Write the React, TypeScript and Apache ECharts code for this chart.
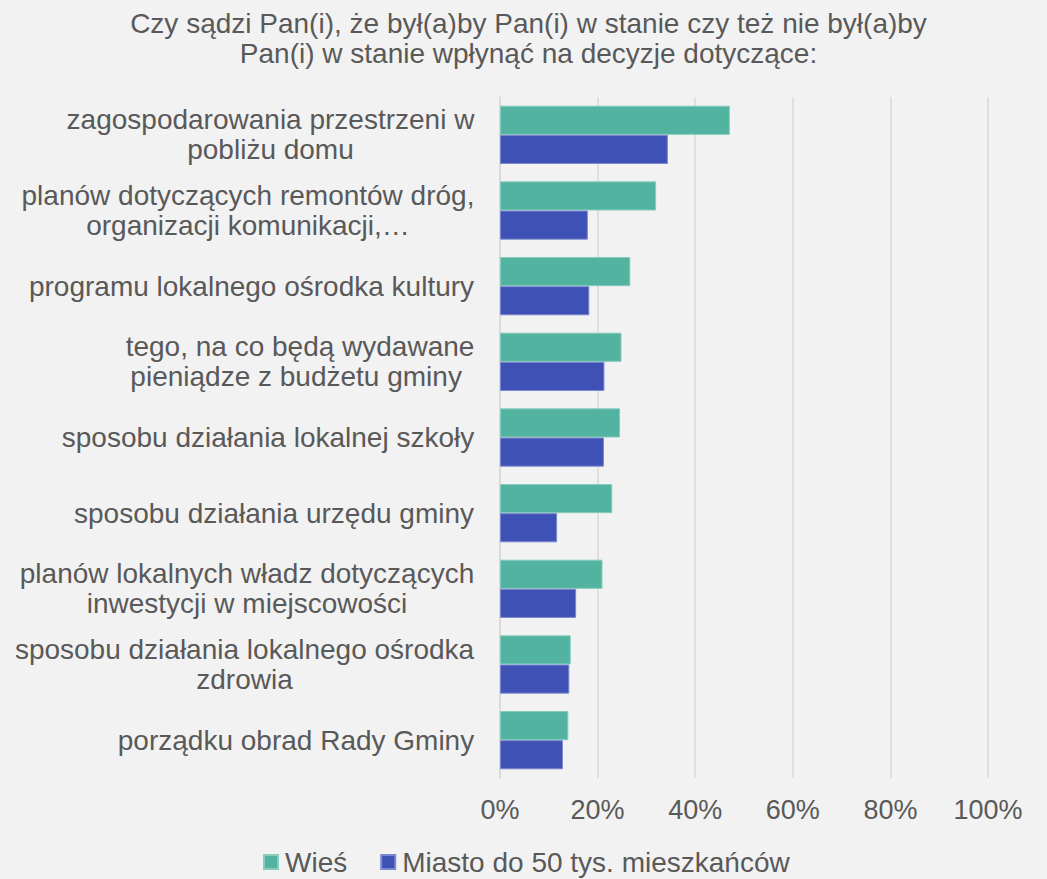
import React, { useEffect, useRef } from "react";
import * as echarts from "echarts";

const titleLines = [
  "Czy sądzi Pan(i), że był(a)by Pan(i) w stanie czy też nie był(a)by",
  "Pan(i) w stanie wpłynąć na decyzje dotyczące:",
];

const categories = [
  "zagospodarowania przestrzeni w\npobliżu domu",
  "planów dotyczących remontów dróg,\norganizacji komunikacji,…",
  "programu lokalnego ośrodka kultury",
  "tego, na co będą wydawane\npieniądze z budżetu gminy ",
  "sposobu działania lokalnej szkoły",
  "sposobu działania urzędu gminy",
  "planów lokalnych władz dotyczących\ninwestycji w miejscowości",
  "sposobu działania lokalnego ośrodka\nzdrowia",
  "porządku obrad Rady Gminy",
];

const wiesValues = [47.1, 32.0, 26.7, 24.9, 24.6, 23.0, 21.0, 14.5, 14.0];
const miastoValues = [34.4, 18.0, 18.3, 21.4, 21.3, 11.7, 15.6, 14.2, 12.9];

const seriesNames = ["Wieś", "Miasto do 50 tys. mieszkańców"];
const xTicks = [0, 20, 40, 60, 80, 100];

const FONT = '"Liberation Sans", Arial, sans-serif';
const TEXT_COLOR = "#595959";
const FS = 28;
const AXIS_FS = 27;

export default function App() {
  const ref = useRef<HTMLDivElement>(null);

  useEffect(() => {
    if (!ref.current) return;
    const chart = echarts.init(ref.current, undefined, { renderer: "svg" });

    const canvas = document.createElement("canvas");
    const ctx = canvas.getContext("2d")!;
    ctx.font = `${FS}px "Liberation Sans"`;
    const rich: Record<string, any> = {};
    categories.forEach((c, i) => {
      const w = Math.max(...c.split("\n").map((l) => ctx.measureText(l).width));
      rich["r" + i] = {
        width: Math.ceil(w) + 1,
        align: "center",
        fontSize: FS,
        fontFamily: FONT,
        color: TEXT_COLOR,
        lineHeight: 30,
      };
    });

    chart.setOption({
      animation: false,
      backgroundColor: "#f2f2f2",
      textStyle: { fontFamily: FONT },
      title: {
        text: titleLines.join("\n"),
        left: "50%",
        top: 3,
        textAlign: "center",
        textStyle: {
          fontSize: FS,
          fontWeight: "normal",
          color: TEXT_COLOR,
          fontFamily: FONT,
          lineHeight: 30,
        },
      },
      legend: {
        data: seriesNames,
        bottom: -2,
        left: 258,
        icon: "rect",
        itemWidth: 14,
        itemHeight: 14,
        itemGap: 33,
        textStyle: { fontSize: FS, color: TEXT_COLOR, fontFamily: FONT, padding: [0, 0, 0, 2] },
      },
      grid: { left: 500, right: 59, top: 97, bottom: 101, containLabel: false },
      xAxis: {
        type: "value",
        min: 0,
        max: 100,
        interval: 20,
        axisLine: { show: false },
        axisTick: { show: false },
        splitLine: { show: true, lineStyle: { color: "#d9d9d9", width: 1.5 } },
        axisLabel: {
          fontSize: AXIS_FS,
          color: TEXT_COLOR,
          fontFamily: FONT,
          margin: 18,
          formatter: (v: number) => (xTicks.includes(v) ? v + "%" : ""),
        },
      },
      yAxis: {
        type: "category",
        inverse: true,
        data: categories,
        axisLine: { show: true, lineStyle: { color: "#d9d9d9", width: 1.5 } },
        axisTick: { show: false },
        axisLabel: {
          margin: 25,
          align: "right",
          interval: 0,
          formatter: (v: string, i: number) =>
            v
              .split("\n")
              .map((l) => `{r${i}|${l}}`)
              .join("\n"),
          rich,
        },
      },
      series: [
        {
          name: seriesNames[0],
          type: "bar",
          data: wiesValues,
          barGap: "0%",
          barCategoryGap: "23%",
          itemStyle: { color: "#52b3a0", borderColor: "#86cbbd", borderWidth: 1 },
        },
        {
          name: seriesNames[1],
          type: "bar",
          data: miastoValues,
          barGap: "0%",
          barCategoryGap: "23%",
          itemStyle: { color: "#3f51b5", borderColor: "#7a88cf", borderWidth: 1 },
        },
      ],
    });

    return () => chart.dispose();
  }, []);

  return (
    <div
      ref={ref}
      style={{ position: "absolute", left: 0, top: 0, width: 1047, height: 879 }}
    />
  );
}
